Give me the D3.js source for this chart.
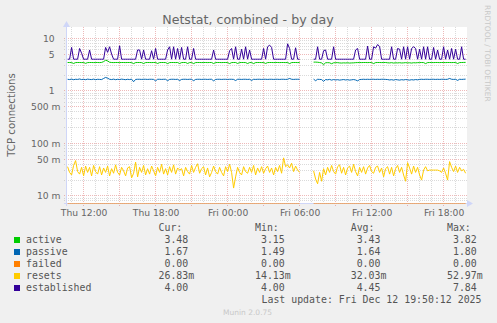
<!DOCTYPE html>
<html>
<head>
<meta charset="utf-8">
<script src="https://cdn.jsdelivr.net/npm/d3@7"></script>
<style>
  body { margin: 0; background: #f0f0f0; }
  svg { display: block; font-family: 'DejaVu Sans', sans-serif; }
  text { white-space: pre; }
  .mono { font-family: 'DejaVu Sans Mono', monospace; font-size: 9.9px; fill: #555; }
</style>
</head>
<body>
<svg width="497" height="323"></svg>
<script>
const seriesNames = ['active', 'passive', 'failed', 'resets', 'established'];
const seriesColors = ['#00CC00', '#0066B3', '#FF8000', '#FFCC00', '#330099'];

// one sample every 10 minutes, first one Thu 10:40
const startTime = new Date(2025, 11, 11, 10, 40);
const stepMinutes = 10;

const active = [
  3.46,3.46,3.45,3.32,3.45,3.46,3.46,3.45,3.46,3.33,
  3.45,3.46,3.46,3.45,3.46,3.46,3.45,3.47,3.60,3.82,
  3.72,3.50,3.46,3.45,3.46,3.46,3.45,3.46,3.46,3.45,
  3.46,3.46,3.45,3.30,3.45,3.46,3.46,3.45,3.31,3.45,
  3.46,3.46,3.45,3.46,3.46,3.32,3.45,3.46,3.46,3.45,
  3.30,3.45,3.46,3.46,3.45,3.46,3.31,3.45,3.46,3.46,
  3.32,3.45,3.46,3.30,3.45,3.46,3.46,3.45,3.46,3.46,
  3.45,3.46,3.46,3.31,3.45,3.46,3.46,3.45,3.46,3.46,
  3.45,3.30,3.45,3.46,3.46,3.32,3.45,3.46,3.46,3.45,
  3.31,3.45,3.46,3.30,3.45,3.46,3.46,3.45,3.46,3.32,
  3.45,3.46,3.46,3.45,3.46,3.46,3.45,3.46,3.46,3.45,
  3.46,3.30,3.45,3.46,3.46,3.45,3.46,null,null,null,
  null,null,null,3.52,3.52,3.50,3.46,3.40,3.15,3.42,
  3.44,3.42,3.28,3.42,3.43,3.44,3.40,3.38,3.41,3.39,
  3.42,3.38,3.40,3.41,3.44,3.45,3.46,3.45,3.46,3.46,
  3.45,3.46,3.46,3.30,3.45,3.46,3.46,3.45,3.46,3.46,
  3.42,3.40,3.44,3.38,3.42,3.40,3.43,3.39,3.41,3.44,
  3.40,3.42,3.38,3.43,3.41,3.44,3.45,3.46,3.45,3.30,
  3.45,3.46,3.46,3.45,3.46,3.46,3.45,3.46,3.46,3.45,
  3.46,3.46,3.45,3.46,3.46,3.31,3.45,3.46,3.47,3.48
];

const passive = [
  1.66,1.64,1.67,1.63,1.66,1.65,1.68,1.64,1.66,1.63,
  1.67,1.65,1.64,1.67,1.63,1.66,1.65,1.64,1.72,1.80,
  1.74,1.66,1.64,1.67,1.63,1.66,1.64,1.67,1.65,1.63,
  1.66,1.64,1.67,1.49,1.65,1.66,1.66,1.65,1.66,1.66,
  1.65,1.66,1.66,1.65,1.55,1.66,1.66,1.65,1.66,1.66,
  1.56,1.65,1.66,1.66,1.65,1.66,1.57,1.65,1.66,1.66,
  1.65,1.66,1.66,1.56,1.65,1.66,1.66,1.65,1.66,1.66,
  1.65,1.66,1.66,1.55,1.65,1.66,1.66,1.65,1.66,1.66,
  1.65,1.66,1.66,1.65,1.57,1.66,1.66,1.65,1.66,1.66,
  1.65,1.66,1.58,1.66,1.65,1.66,1.66,1.65,1.66,1.66,
  1.65,1.66,1.66,1.65,1.66,1.66,1.65,1.66,1.66,1.65,
  1.66,1.72,1.66,1.65,1.66,1.66,1.66,null,null,null,
  null,null,null,1.67,1.56,1.66,1.65,1.64,1.52,1.64,
  1.62,1.65,1.60,1.64,1.61,1.63,1.60,1.62,1.64,1.61,
  1.63,1.60,1.62,1.64,1.61,1.55,1.64,1.65,1.66,1.65,
  1.66,1.65,1.66,1.66,1.65,1.66,1.65,1.66,1.66,1.65,
  1.64,1.61,1.63,1.60,1.64,1.62,1.60,1.63,1.61,1.64,
  1.62,1.60,1.63,1.61,1.64,1.62,1.65,1.66,1.65,1.66,
  1.66,1.65,1.66,1.66,1.65,1.66,1.65,1.66,1.66,1.65,
  1.66,1.72,1.66,1.65,1.66,1.58,1.66,1.65,1.66,1.67
];

const failed = [
  0,0,0,0,0,0,0,0,0,0, 0,0,0,0,0,0,0,0,0,0,
  0,0,0,0,0,0,0,0,0,0, 0,0,0,0,0,0,0,0,0,0,
  0,0,0,0,0,0,0,0,0,0, 0,0,0,0,0,0,0,0,0,0,
  0,0,0,0,0,0,0,0,0,0, 0,0,0,0,0,0,0,0,0,0,
  0,0,0,0,0,0,0,0,0,0, 0,0,0,0,0,0,0,0,0,0,
  0,0,0,0,0,0,0,0,0,0, 0,0,0,0,0,0,0,null,null,null,
  null,null,null,0,0,0,0,0,0,0, 0,0,0,0,0,0,0,0,0,0,
  0,0,0,0,0,0,0,0,0,0, 0,0,0,0,0,0,0,0,0,0,
  0,0,0,0,0,0,0,0,0,0, 0,0,0,0,0,0,0,0,0,0,
  0,0,0,0,0,0,0,0,0,0, 0,0,0,0,0,0,0,0,0,0
];

const resets = [
  0.036,0.028,0.025,0.038,0.047,0.029,0.026,0.035,0.024,0.037,
  0.028,0.035,0.024,0.038,0.029,0.026,0.036,0.025,0.034,0.028,
  0.037,0.024,0.033,0.027,0.039,0.028,0.025,0.035,0.030,0.024,
  0.034,0.036,0.022,0.027,0.044,0.023,0.035,0.028,0.038,0.025,
  0.033,0.026,0.037,0.030,0.024,0.035,0.028,0.040,0.026,0.033,
  0.025,0.036,0.028,0.039,0.026,0.034,0.031,0.033,0.024,0.035,
  0.029,0.026,0.038,0.028,0.035,0.041,0.027,0.033,0.036,0.025,
  0.034,0.023,0.028,0.037,0.029,0.026,0.035,0.028,0.024,0.036,
  0.029,0.040,0.028,0.0141,0.023,0.035,0.028,0.025,0.036,0.029,
  0.027,0.035,0.028,0.038,0.025,0.034,0.028,0.036,0.027,0.033,
  0.037,0.028,0.034,0.025,0.035,0.029,0.038,0.027,0.053,0.036,
  0.039,0.034,0.042,0.029,0.037,0.031,0.028,null,null,null,
  null,null,null,0.030,0.021,0.017,0.028,0.019,0.033,0.025,
  0.035,0.028,0.038,0.029,0.026,0.036,0.039,0.027,0.035,0.025,
  0.034,0.037,0.028,0.040,0.029,0.024,0.035,0.028,0.036,0.026,
  0.034,0.038,0.029,0.027,0.035,0.037,0.028,0.034,0.023,0.033,
  0.036,0.026,0.035,0.024,0.033,0.038,0.028,0.035,0.025,0.019,
  0.043,0.034,0.026,0.037,0.028,0.035,0.025,0.020,0.031,0.036,
  0.030,0.031,0.031,0.031,0.031,0.031,0.030,0.028,0.034,0.027,
  0.020,0.045,0.035,0.029,0.037,0.028,0.035,0.030,0.032,0.027
];

const established = [
  4,4,6.7,4,4,4,6.4,5.2,4,4,
  4,6.0,4,4,4,4,4,4,4,6.7,
  5.4,6.9,5.0,4,4,4,7.2,4,4,4,
  4,4,4,4,4,6.0,6.0,4,6.0,4,
  4,4,5.8,4,6.4,4,4,4,4,4,
  6.0,6.9,4,6.9,4,6.4,4,6.7,4,4,
  6.9,4,4,6.4,4,4,4,4,4,4,
  4,4,4,6.0,4,4,4,4,4,4,
  4,5.8,6.4,4,6.9,4,4,6.2,4,6.9,
  4,6.0,4,4,4,4,4,4,6.4,4,
  6.9,7.4,6.7,4,4,4,4,4,4,4,
  7.84,6.4,4,4,6.6,4,4,null,null,null,
  null,null,null,4,4,6.9,4,4,5.8,6.0,
  4,4,4,6.9,4,4,4,4,4,4,
  4,4,4,4,6.0,6.4,4,4,4,4,
  7.1,4,4,6.9,6.5,7.6,7.0,4,4,4,
  4,4,6.9,4,4,6.4,6.2,4,6.9,4,
  6.9,4,6.4,6.9,6.4,4,6.2,4,6.9,4,
  6.9,4,4,6.7,4,6.0,4,4,6.9,4,
  6.0,4,6.4,4,6.2,4,4,6.9,4,4
];

const curValues = [3.48, 1.67, 0, 0.02683, 4.00];
const minValues = [3.15, 1.49, 0, 0.01413, 4.00];
const avgValues = [3.43, 1.64, 0, 0.03203, 4.45];
const maxValues = [3.82, 1.80, 0, 0.05297, 7.84];

const yTickValues = [0.01, 0.05, 0.1, 0.5, 1, 5, 10];
const xTickTimes = [
  new Date(2025, 11, 11, 12), new Date(2025, 11, 11, 18),
  new Date(2025, 11, 12, 0), new Date(2025, 11, 12, 6),
  new Date(2025, 11, 12, 12), new Date(2025, 11, 12, 18)
];
const title = 'Netstat, combined - by day';
const yAxisLabel = 'TCP connections';
const lastUpdate = 'Last update: Fri Dec 12 19:50:12 2025';

const svg = d3.select('svg');
const width = +svg.attr('width');
const height = +svg.attr('height');

const render = data => {
  const plot = { left: 67, right: 467, top: 27, bottom: 203 };
  const crisp = v => Math.floor(v) + 0.5;

  const xScale = d3.scaleTime()
    .domain([new Date(2025, 11, 11, 10, 37), new Date(2025, 11, 12, 19, 57)])
    .range([plot.left, plot.right]);

  const yScale = d3.scaleLog()
    .domain([0.01, 10])
    .range([195.9, 38.3]);
  const yFloor = yScale.copy()
    .domain([yScale.invert(plot.bottom + 0.5), 10])
    .range([plot.bottom + 0.5, 38.3])
    .clamp(true);

  svg.append('rect')
    .attr('width', width).attr('height', height).attr('fill', '#f0f0f0');
  svg.append('rect')
    .attr('x', plot.left).attr('y', plot.top)
    .attr('width', plot.right - plot.left).attr('height', plot.bottom - plot.top)
    .attr('fill', '#ffffff');

  // grid
  const minorColor = 'rgba(140,140,140,0.32)';
  const majorColor = 'rgba(210,70,70,0.38)';
  const grid = svg.append('g');

  const hours = d3.timeHour.every(1).range(...xScale.domain());
  hours.forEach(t => {
    const major = t.getHours() % 3 === 0;
    grid.append('line')
      .attr('x1', crisp(xScale(t))).attr('x2', crisp(xScale(t)))
      .attr('y1', plot.top).attr('y2', major ? plot.bottom + 3 : plot.bottom)
      .attr('stroke', major ? majorColor : minorColor)
      .attr('stroke-dasharray', '1,1');
  });

  const yGridValues = [];
  [0.001, 0.01, 0.1, 1, 10].forEach(base => {
    for (let m = 1; m <= 9; m++) yGridValues.push(m * base);
  });
  yGridValues.forEach(v => {
    const y = yScale(v);
    if (y < plot.top || y > plot.bottom) return;
    const m = Math.round(v / Math.pow(10, Math.floor(Math.log10(v) + 1e-9)));
    const major = m === 1 || m === 5;
    grid.append('line')
      .attr('x1', plot.left - 3).attr('x2', plot.right)
      .attr('y1', crisp(y)).attr('y2', crisp(y))
      .attr('stroke', major ? majorColor : minorColor)
      .attr('stroke-dasharray', '1,1');
  });

  // axes lines + arrows
  svg.append('line')
    .attr('x1', plot.left - 0.5).attr('x2', plot.left - 0.5)
    .attr('y1', plot.bottom + 3).attr('y2', plot.top - 2)
    .attr('stroke', '#CFD6F8');
  svg.append('line')
    .attr('x1', plot.left - 3).attr('x2', plot.right + 1)
    .attr('y1', plot.bottom + 0.5).attr('y2', plot.bottom + 0.5)
    .attr('stroke', '#CFD6F8');
  svg.append('path')
    .attr('d', `M${plot.left - 4},${plot.top} L${plot.left - 0.5},${plot.top - 6} L${plot.left + 3},${plot.top} Z`)
    .attr('fill', '#CFD6F8');
  svg.append('path')
    .attr('d', `M${plot.right},${plot.bottom - 3} L${plot.right + 6},${plot.bottom + 0.5} L${plot.right},${plot.bottom + 4} Z`)
    .attr('fill', '#CFD6F8');

  // series
  const lines = svg.append('g');
  seriesNames.forEach((name, k) => {
    const y = name === 'failed' ? yFloor : yScale;
    const lineGenerator = d3.line()
      .defined(d => d[name] !== null)
      .x(d => xScale(d.time))
      .y(d => y(d[name]));
    lines.append('path')
      .attr('d', lineGenerator(data))
      .attr('fill', 'none')
      .attr('stroke', seriesColors[k])
      .attr('stroke-opacity', name === 'failed' ? 0.55 : 1)
      .attr('stroke-width', 1);
  });

  // tick labels
  const yAxis = d3.axisLeft(yScale)
    .tickValues(yTickValues)
    .tickFormat(v => v < 1 ? `${Math.round(v * 1000)}\u00a0m` : `${v}\u00a0\u00a0`)
    .tickSize(0)
    .tickPadding(6);
  const yAxisGroup = svg.append('g')
    .attr('transform', `translate(${plot.left - 0.5},0)`)
    .call(yAxis);
  yAxisGroup.select('.domain').remove();
  yAxisGroup.selectAll('text')
    .attr('font-family', 'DejaVu Sans').attr('font-size', 9.2).attr('fill', '#666');

  const xAxis = d3.axisBottom(xScale)
    .tickValues(xTickTimes)
    .tickFormat(d3.timeFormat('%a %H:%M'))
    .tickSize(0)
    .tickPadding(6);
  const xAxisGroup = svg.append('g')
    .attr('transform', `translate(0,${plot.bottom + 0.5})`)
    .call(xAxis);
  xAxisGroup.select('.domain').remove();
  xAxisGroup.selectAll('text')
    .attr('font-family', 'DejaVu Sans').attr('font-size', 9.2).attr('fill', '#666');

  // titles
  svg.append('text')
    .attr('x', 248).attr('y', 24)
    .attr('text-anchor', 'middle')
    .attr('font-size', 12.6).attr('fill', '#666')
    .text(title);
  svg.append('text')
    .attr('transform', 'translate(15,115) rotate(-90)')
    .attr('text-anchor', 'middle')
    .attr('font-size', 10.2).attr('fill', '#666')
    .text(yAxisLabel);
  svg.append('text')
    .attr('transform', 'translate(485,5) rotate(90)')
    .attr('font-size', 7.5).attr('fill', '#c8c8c8')
    .text('RRDTOOL / TOBI OETIKER');
  svg.append('text')
    .attr('x', 223).attr('y', 314.5)
    .attr('font-size', 7.5).attr('fill', '#c8c8c8')
    .text('Munin 2.0.75');

  // legend
  const fmt = v => {
    if (v > 0 && v < 1) return d3.format('5.2f')(v * 1000) + 'm';
    return d3.format('5.2f')(v);
  };
  const columns = [
    { label: 'Cur:', x: 158.5, values: curValues },
    { label: 'Min:', x: 255, values: minValues },
    { label: 'Avg:', x: 350.7, values: avgValues },
    { label: 'Max:', x: 447, values: maxValues }
  ];
  const legend = svg.append('g');
  const rowY = i => 243 + i * 12;
  columns.forEach(c => {
    legend.append('text').attr('class', 'mono')
      .attr('x', c.x).attr('y', 231).text(c.label);
    c.values.forEach((v, i) => {
      legend.append('text').attr('class', 'mono')
        .attr('x', c.x).attr('y', rowY(i)).text(fmt(v));
    });
  });
  seriesNames.forEach((name, i) => {
    legend.append('rect')
      .attr('x', 14).attr('y', rowY(i) - 6)
      .attr('width', 6).attr('height', 6)
      .attr('fill', seriesColors[i]);
    legend.append('text').attr('class', 'mono')
      .attr('x', 26).attr('y', rowY(i)).text(name);
  });
  legend.append('text').attr('class', 'mono')
    .attr('x', 261.5).attr('y', 303).text(lastUpdate);
};

const seriesData = { active, passive, failed, resets, established };
const data = active.map((_, i) => {
  const row = { time: d3.timeMinute.offset(startTime, i * stepMinutes) };
  seriesNames.forEach(name => { row[name] = seriesData[name][i]; });
  return row;
});
render(data);
</script>
</body>
</html>
